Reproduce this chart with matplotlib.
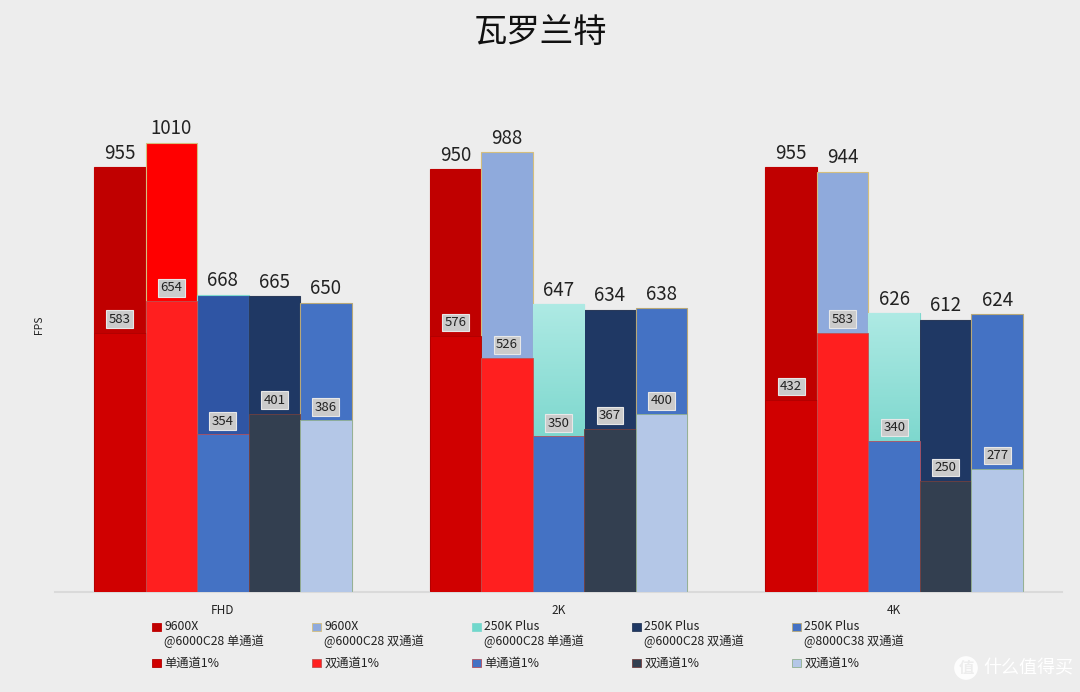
import matplotlib
matplotlib.use("Agg")
import matplotlib.pyplot as plt
import numpy as np
from matplotlib.patches import Patch, Rectangle
from matplotlib.colors import LinearSegmentedColormap
from matplotlib.legend_handler import HandlerPatch

plt.rcParams['font.family'] = ['Noto Sans CJK SC', 'DejaVu Sans']

title = "瓦罗兰特"
categories = ["FHD", "2K", "4K"]

avg_names = ["9600X\n@6000C28 单通道", "9600X\n@6000C28 双通道", "250K Plus\n@6000C28 单通道",
             "250K Plus\n@6000C28 双通道", "250K Plus\n@8000C38 双通道"]
low_names = ["单通道1%", "双通道1%", "单通道1%", "双通道1%", "双通道1%"]

avg_9600x_single = [955, 950, 955]
avg_9600x_dual = [1010, 988, 944]
avg_250k_6000_single = [668, 647, 626]
avg_250k_6000_dual = [665, 634, 612]
avg_250k_8000_dual = [650, 638, 624]

low_9600x_single = [583, 576, 432]
low_9600x_dual = [654, 526, 583]
low_250k_6000_single = [354, 350, 340]
low_250k_6000_dual = [401, 367, 250]
low_250k_8000_dual = [386, 400, 277]

avg_series = [avg_9600x_single, avg_9600x_dual, avg_250k_6000_single, avg_250k_6000_dual, avg_250k_8000_dual]
low_series = [low_9600x_single, low_9600x_dual, low_250k_6000_single, low_250k_6000_dual, low_250k_8000_dual]

avg_colors = ["#C00000", "#8FAADC", "#8EDDD4", "#1F3864", "#4472C4"]
avg_edges = ["#C00000", "#D4BE7E", "#7FD8CE", "#2A3A5A", "#B8A878"]
# per-point colour overrides seen in FHD
avg_point_colors = {(1, 0): "#FF0000", (2, 0): "#2F55A4"}
low_colors = ["#D00000", "#FF1F1F", "#4472C4", "#333F50", "#B4C7E7"]
low_edges = ["#B00000", "#C05050", "#B05060", "#704040", "#90B090"]

bg = "#EDEDED"
fig = plt.figure(figsize=(10.8, 6.92), dpi=100, facecolor=bg)
ax = fig.add_axes([55/1080, 100/692, 1007/1080, 534/692])
ax.set_facecolor(bg)

x = np.arange(len(categories))
w = 0.1535
n = len(avg_series)

teal_cmap = LinearSegmentedColormap.from_list("teal", ["#44C2B4", "#AEEAE4"])

for i in range(n):
    xs = x + (i - (n - 1) / 2) * w
    cols = [avg_point_colors.get((i, j), avg_colors[i]) for j in range(len(categories))]
    bars = ax.bar(xs, avg_series[i], width=w, color=cols, edgecolor=avg_edges[i],
                  linewidth=0.8, zorder=2)
    if i == 2:
        for j, b in enumerate(bars):
            if (i, j) in avg_point_colors:
                continue
            grad = np.linspace(0, 1, 256).reshape(-1, 1)
            im = ax.imshow(grad, cmap=teal_cmap, origin="lower", aspect="auto",
                           extent=[b.get_x(), b.get_x() + b.get_width(), 0, b.get_height()],
                           zorder=2.1)
            im.set_clip_path(b)
    for j, v in enumerate(avg_series[i]):
        ax.annotate(str(v), (xs[j], v), xytext=(0, 2.5), textcoords="offset points",
                    ha="center", va="bottom", fontsize=13.5, color="#222222", zorder=6)

for i in range(n):
    xs = x + (i - (n - 1) / 2) * w
    ax.bar(xs, low_series[i], width=w, color=low_colors[i], edgecolor=low_edges[i],
           linewidth=0.6, zorder=3)
    for j, v in enumerate(low_series[i]):
        ax.annotate(str(v), (xs[j], v), xytext=(0, 9.5), textcoords="offset points",
                    ha="center", va="center", fontsize=9.5, color="#222222", zorder=7,
                    bbox=dict(boxstyle="square,pad=0.18", facecolor="#CBCBCB",
                              edgecolor="#E8E8E8", linewidth=0.8))

ax.set_xlim(-0.5, len(categories) - 0.5)
ax.set_ylim(0, 1200)
ax.set_xticks(x)
ax.set_xticklabels(categories, fontsize=8.5, color="#222222")
ax.tick_params(axis="x", length=0, pad=8.5)
ax.set_yticks([])
for s in ["top", "right", "left"]:
    ax.spines[s].set_visible(False)
ax.spines["bottom"].set_color("#DADADA")
ax.spines["bottom"].set_linewidth(1.5)
ax.set_ylabel("FPS", fontsize=7.5, color="#222222", labelpad=8)

fig.text(0.5, 0.953, title, ha="center", va="center", fontsize=24, fontweight="medium", color="#111111")


def top_patch(legend, orig_handle, xdescent, ydescent, width, height, fontsize):
    return Rectangle((-xdescent, -ydescent + 5.5), width, height)


def plain_patch(legend, orig_handle, xdescent, ydescent, width, height, fontsize):
    return Rectangle((-xdescent, -ydescent), width, height)


handles, labels, hmap = [], [], {}
teal_handle_color = "#70D8CC"
for i in range(n):
    hc = teal_handle_color if i == 2 else avg_colors[i]
    h1 = Patch(facecolor=hc, edgecolor=avg_edges[i], linewidth=0.6)
    h2 = Patch(facecolor=low_colors[i], edgecolor=low_edges[i], linewidth=0.6)
    hmap[h1] = HandlerPatch(patch_func=top_patch)
    hmap[h2] = HandlerPatch(patch_func=plain_patch)
    handles += [h1, h2]
    labels += [avg_names[i], low_names[i]]

leg = fig.legend(handles, labels, ncol=5, loc="upper left", handler_map=hmap,
                 bbox_to_anchor=(152/1080, 1 - 620/692, 752/1080, 0.0), mode="expand",
                 frameon=False, fontsize=8.8, handlelength=0.7, handleheight=0.7,
                 handletextpad=0.3, labelspacing=0.75, borderaxespad=0, borderpad=0)
for t in leg.get_texts():
    t.set_color("#222222")
    t.set_linespacing(1.15)

# watermark
fig.text(966/1080, 1 - 668/692, "值", ha="center", va="center", fontsize=11, color=bg,
         fontweight="bold",
         bbox=dict(boxstyle="circle,pad=0.25", facecolor="white", edgecolor="none", alpha=0.9))
fig.text(1028/1080, 1 - 668/692, "什么值得买", ha="center", va="center", fontsize=13, color="white")

fig.savefig("out.png", dpi=100, facecolor=bg)
